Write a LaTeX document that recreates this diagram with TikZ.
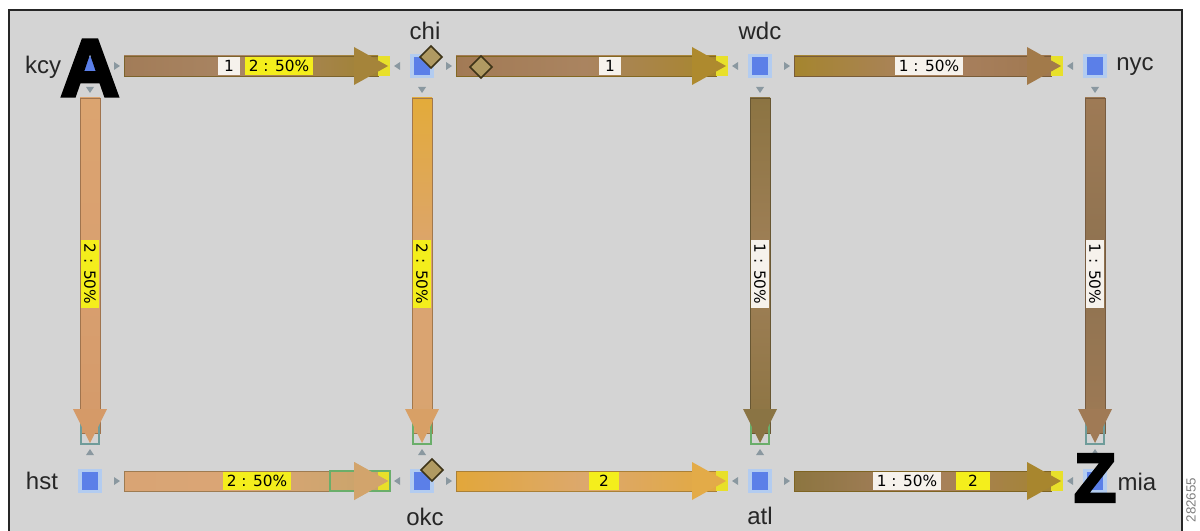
\documentclass[tikz,border=0pt]{standalone}
\usepackage{fontspec}
\setmainfont{Liberation Sans}
\newfontfamily\lblfont{DejaVu Sans}
\newfontfamily\bigfont[FakeBold=4]{Liberation Sans Bold}
\usetikzlibrary{calc,shapes.geometric}
\definecolor{bg}{HTML}{D4D4D4}
\definecolor{sqblue}{HTML}{5B7FE8}
\definecolor{halo}{HTML}{B3CCF0}
\definecolor{porttri}{HTML}{8A98A0}
\definecolor{capyel}{HTML}{E8E02A}
\definecolor{lblyel}{HTML}{F4EE1C}
\definecolor{lblwht}{HTML}{F6F2EC}
\definecolor{diafill}{HTML}{B09A62}
\definecolor{diadraw}{HTML}{3E3418}
\definecolor{capgreen}{HTML}{6AAE6A}
\definecolor{boxteal}{HTML}{6F9C9A}
\definecolor{hsthead}{HTML}{D2A46C}
\tikzset{
  sq/.style={rectangle, fill=sqblue, draw=halo, line width=2.5pt, minimum width=15pt, minimum height=16pt, inner sep=0pt},
  citylbl/.style={font=\fontsize{18}{20}\selectfont, text=black!85, inner sep=0pt},
  lbl/.style={font=\lblfont\fontsize{11.5}{12}\selectfont, inner xsep=2.5pt, inner ysep=0pt, minimum height=13.5pt, text depth=0pt},
  lbly/.style={lbl, fill=lblyel},
  lblw/.style={lbl, fill=lblwht},
  dia/.style={diamond, fill=diafill, draw=diadraw, line width=1.2pt, minimum width=17pt, minimum height=17pt, inner sep=0pt},
  big/.style={text=black, inner sep=0pt},
  tri/.style={fill=porttri}
}
% horizontal link: from, to, left, middle, right, head
\newcommand\hlink[6]{%
  \definecolor{cA}{HTML}{#3}\definecolor{cB}{HTML}{#4}\definecolor{cC}{HTML}{#5}\definecolor{cH}{HTML}{#6}%
  \fill[left color=cA, right color=cC, middle color=cB] ($(#1)+(34,-10)$) rectangle ($(#2)+(-44,10)$);
  \draw[cH!75!black, line width=0.4pt] ($(#1)+(34,-10)$) rectangle ($(#2)+(-44,10)$);
  \fill[capyel] ($(#2)+(-44,-10)$) rectangle ($(#2)+(-32,10)$);
  \fill[cH] ($(#2)+(-68,-10)$) -- ($(#2)+(-68,-19)$) -- ($(#2)+(-34,0)$) -- ($(#2)+(-68,19)$) -- ($(#2)+(-68,10)$) -- cycle;
  \fill[tri] ($(#1)+(24,-4)$) -- ($(#1)+(30,0)$) -- ($(#1)+(24,4)$) -- cycle;
  \fill[tri] ($(#2)+(-22,-4)$) -- ($(#2)+(-28,0)$) -- ($(#2)+(-22,4)$) -- cycle;
}
% vertical link: from, to, top, middle, bottom, head, box colour
\newcommand\vlink[7]{%
  \definecolor{cA}{HTML}{#3}\definecolor{cB}{HTML}{#4}\definecolor{cC}{HTML}{#5}\definecolor{cH}{HTML}{#6}%
  \fill[top color=cA, bottom color=cC, middle color=cB] ($(#1)+(-10,32)$) rectangle ($(#2)+(10,-48)$);
  \draw[cH!75!black, line width=0.4pt] ($(#1)+(-10,32)$) rectangle ($(#2)+(10,-48)$);
  \draw[#7, line width=1.2pt] ($(#2)+(-9,-59)$) rectangle ($(#2)+(9,-37)$);
  \fill[cH] ($(#2)+(-10,-72)$) -- ($(#2)+(-17,-72)$) -- ($(#2)+(0,-38)$) -- ($(#2)+(17,-72)$) -- ($(#2)+(10,-72)$) -- cycle;
  \fill[tri] ($(#1)+(-4,21)$) -- ($(#1)+(4,21)$) -- ($(#1)+(0,27)$) -- cycle;
  \fill[tri] ($(#2)+(-4,-26)$) -- ($(#2)+(4,-26)$) -- ($(#2)+(0,-32)$) -- cycle;
}
\begin{document}
\begin{tikzpicture}[x=0.75pt,y=-0.75pt]
\useasboundingbox (0,0) rectangle (1200,531);
\clip (0,0) rectangle (1200,531);
\fill[white] (0,0) rectangle (1200,531);
\fill[bg] (9,10) rectangle (1182,545);
\draw[black!85, line width=1.5pt] (9,545) -- (9,10) -- (1182,10) -- (1182,545);

% node positions
\coordinate (kcy) at (90,66);
\coordinate (chi) at (422,66);
\coordinate (wdc) at (760,66);
\coordinate (nyc) at (1095,66);
\coordinate (hst) at (90,481);
\coordinate (okc) at (422,481);
\coordinate (atl) at (760,481);
\coordinate (mia) at (1095,481);

% links
\hlink{kcy}{chi}{A27C58}{AA8664}{A08232}{A5843A}
\hlink{chi}{wdc}{A27A55}{AA8460}{A8862C}{AE8A2E}
\hlink{wdc}{nyc}{A5852E}{AA8262}{A07850}{A27A4A}
\hlink{hst}{okc}{D9A474}{DAA676}{C8A46A}{D2A46C}
\draw[capgreen, line width=1pt] ($(okc)+(-92,-10)$) rectangle ($(okc)+(-32,10)$);
\fill[hsthead] ($(okc)+(-68,-10)$) -- ($(okc)+(-68,-19)$) -- ($(okc)+(-34,0)$) -- ($(okc)+(-68,19)$) -- ($(okc)+(-68,10)$) -- cycle;
\hlink{okc}{atl}{E2A73A}{DCA86E}{E2A940}{E3AB48}
\hlink{atl}{mia}{8C7540}{A88060}{A48433}{A8862E}
\vlink{kcy}{hst}{DBA470}{D9A070}{D49A6A}{D59A68}{boxteal}
\vlink{chi}{okc}{E3AB3A}{DBA472}{D8A470}{D8A066}{capgreen}
\vlink{wdc}{atl}{8C7442}{A08058}{8C7442}{8A7444}{capgreen}
\vlink{nyc}{mia}{9E7A55}{8E7250}{9E7A55}{A07A55}{boxteal}

% link labels
\node[lblw, minimum width=17pt] (l1a) at (229,66) {1};
\node[lbly] (l1b) at (279,66) {2 : 50\%};
\node[lblw, minimum width=17pt] (l2a) at (610,66) {1};
\node[lblw] (l3a) at (929,66) {1 : 50\%};
\node[lbly] (l4a) at (257,481) {2 : 50\%};
\node[lbly, minimum width=22pt] (l5a) at (604,481) {2};
\node[lblw] (l6a) at (907,481) {1 : 50\%};
\node[lbly, minimum width=25pt] (l6b) at (973,481) {2};
\node[lbly, rotate=-90] (l7a) at (90,274) {2 : 50\%};
\node[lbly, rotate=-90] (l8a) at (422,274) {2 : 50\%};
\node[lblw, rotate=-90] (l9a) at (760,274) {1 : 50\%};
\node[lblw, rotate=-90] (l10a) at (1095,274) {1 : 50\%};

% router nodes
\node[sq] (kcyn) at (kcy) {};
\node[sq] (chin) at (chi) {};
\node[sq] (wdcn) at (wdc) {};
\node[sq] (nycn) at (nyc) {};
\node[sq] (hstn) at (hst) {};
\node[sq] (okcn) at (okc) {};
\node[sq] (atln) at (atl) {};
\node[sq] (mian) at (mia) {};

% diamonds
\node[dia] (d1) at (431,57) {};
\node[dia] (d2) at (481,67) {};
\node[dia] (d3) at (432,470) {};

% A and Z markers
\node[big, font=\bigfont\fontsize{61}{61}\selectfont] (amark) at (90,68) {A};
\node[big, font=\bigfont\fontsize{52}{52}\selectfont] (zmark) at (1095,478) {Z};

% names
\node[citylbl] (kcyl) at (43,67) {kcy};
\node[citylbl] (chil) at (425,31) {chi};
\node[citylbl] (wdcl) at (760,31) {wdc};
\node[citylbl] (nycl) at (1135,67) {nyc};
\node[citylbl] (hstl) at (42,481) {hst};
\node[citylbl] (okcl) at (425,517) {okc};
\node[citylbl] (atll) at (760,516) {atl};
\node[citylbl] (mial) at (1137,482) {mia};

\node[rotate=90, font=\fontsize{10}{10}\selectfont, text=black!50, inner sep=0pt] (fig) at (1191,500) {282655};
\end{tikzpicture}
\end{document}
